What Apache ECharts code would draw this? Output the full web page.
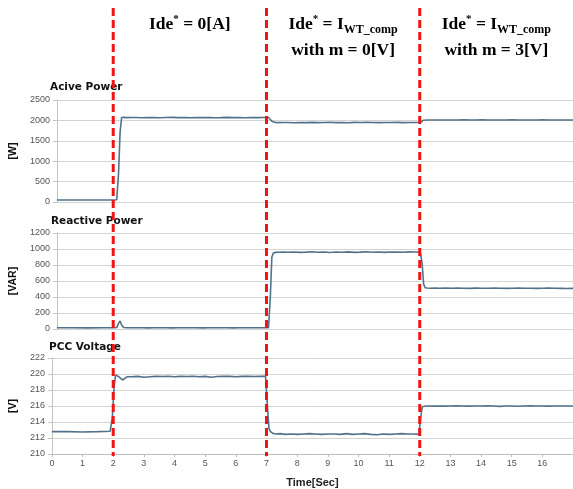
<!DOCTYPE html>
<html>
<head>
<meta charset="utf-8">
<script src="https://cdn.jsdelivr.net/npm/echarts@6/dist/echarts.min.js"></script>
<style>html,body{margin:0;padding:0;background:#fff}#c{width:573px;height:489px}</style>
</head>
<body>
<div id="c"></div>
<script>
// ---- data ----
const time = [0,0.5,1,1.5,1.9,1.97,2.03,2.08,2.13,2.2,2.3,2.45,
2.6,2.8,3,3.2,3.4,3.6,3.8,4,4.2,4.4,4.6,4.8,5,5.2,5.4,5.6,5.8,6,6.2,6.4,6.6,6.8,
6.97,7.03,7.08,7.13,7.2,7.3,7.45,
7.6,7.8,8,8.2,8.4,8.6,8.8,9,9.2,9.4,9.6,9.8,10,10.2,10.4,10.6,10.8,11,11.2,11.4,11.6,11.8,
11.97,12.03,12.08,12.13,12.2,12.3,12.45,
12.6,12.8,13,13.2,13.4,13.6,13.8,14,14.2,14.4,14.6,14.8,15,15.2,15.4,15.6,15.8,16,16.2,16.4,16.6,16.8,
17];

const activePower = [50,50,50,50,50,55,700,1700,2070,2075,2068,2070,
2070,2066,2072,2068,2064,2070,2073,2067,2070,2065,2071,2068,2072,2066,2069,2073,2067,2070,2066,2072,2069,2071,
2070,2030,1980,1955,1948,1946,1950,
1948,1944,1950,1946,1952,1945,1949,1953,1946,1950,1944,1951,1947,1953,1948,1945,1950,1947,1952,1946,1949,1947,
1948,1985,2005,2010,2010,2008,2010,
2010,2009,2011,2010,2012,2010,2009,2015,2010,2011,2009,2010,2012,2010,2009,2011,2010,2013,2010,2009,2011,2010,
2010];

const reactivePower = [15,15,14,15,15,18,70,100,50,18,15,15,
15,16,14,15,16,15,14,15,16,15,15,14,16,15,15,16,14,15,15,16,15,15,
15,400,900,950,958,960,962,
960,963,958,961,965,959,962,957,963,960,964,958,961,966,960,962,958,963,961,959,964,962,
960,820,560,515,512,510,511,
510,512,509,511,510,508,511,510,509,512,510,508,510,511,509,510,508,510,511,509,508,507,
508];

const pccVoltage = [212.8,212.8,212.75,212.8,212.85,214.5,218.5,219.9,220.1,219.6,219.25,219.65,
219.65,219.7,219.6,219.65,219.7,219.68,219.72,219.66,219.7,219.68,219.72,219.65,219.7,219.6,219.68,219.72,219.7,219.66,219.7,219.72,219.68,219.7,
219.7,216.0,213.2,212.8,212.6,212.5,212.55,
212.45,212.5,212.45,212.5,212.55,212.5,212.45,212.5,212.5,212.45,212.55,212.45,212.5,212.55,212.45,212.4,212.5,212.45,212.5,212.55,212.5,212.5,
212.45,214.5,215.9,216.0,216.0,216.0,215.98,
216.0,215.98,216.0,216.02,216.0,215.98,216.0,216.0,216.02,216.0,215.95,216.0,216.0,215.97,216.0,216.02,216.0,216.0,215.98,216.0,216.0,216.0,
216.0];

const panelTitles = ['Acive Power', 'Reactive Power', 'PCC Voltage'];
const yNames = ['[W]', '[VAR]', '[V]'];
const yRanges = [[0, 2500, 500], [0, 1200, 200], [210, 222, 2]];
const switchTimes = [2, 7, 12];
const segments = [[2, 7], [7, 12], [12, 17]];
const xAxisName = 'Time[Sec]';

// ---- chart ----
const chart = echarts.init(document.getElementById('c'), null, {renderer: 'canvas'});
const lineColor = '#52718b';
const gridDefs = [
  {left: 51, right: -2, top: 100, height: 102},
  {left: 51, right: -2, top: 233, height: 96},
  {left: 51, right: -2, top: 358, height: 104}
];
const series = [activePower, reactivePower, pccVoltage].map((arr, i) => ({
  type: 'line', xAxisIndex: i, yAxisIndex: i, showSymbol: false, animation: false,
  lineStyle: {color: lineColor, width: 1.6},
  data: time.map((t, k) => [t, arr[k]])
}));

chart.setOption({
  animation: false,
  title: panelTitles.map((t, i) => ({
    text: t, left: [50, 51, 49][i], top: [82, 216, 342][i], padding: 0,
    textStyle: {fontFamily: 'DejaVu Sans', fontWeight: 'bold', fontSize: 10.5, color: '#111'}
  })),
  grid: gridDefs,
  xAxis: [0, 1, 2].map(i => ({
    type: 'value', gridIndex: i, min: 0, max: 17, interval: 1,
    name: i === 2 ? xAxisName : '', nameLocation: 'middle', nameGap: 23,
    nameTextStyle: {fontFamily: 'Liberation Sans', fontWeight: 'bold', fontSize: 11, color: '#222'},
    axisLine: {show: i === 2, lineStyle: {color: '#bdbdbd'}},
    axisTick: {show: i === 2, length: 3, lineStyle: {color: '#bdbdbd'}},
    axisLabel: {show: i === 2, showMaxLabel: false, margin: 5, fontSize: 9, color: '#555', fontFamily: 'Liberation Sans'},
    splitLine: {show: false}
  })),
  yAxis: [0, 1, 2].map(i => ({
    type: 'value', gridIndex: i, min: yRanges[i][0], max: yRanges[i][1], interval: yRanges[i][2],
    name: yNames[i], nameLocation: 'middle', nameRotate: 90, nameGap: [25, 31, 29][i],
    nameTextStyle: {fontFamily: 'Liberation Sans', fontWeight: 'bold', fontSize: 10.5, color: '#111'},
    axisLine: {show: true, lineStyle: {color: '#c4c4c4'}},
    axisTick: {show: true, length: 4, lineStyle: {color: '#c4c4c4'}},
    axisLabel: {margin: 7, fontSize: 9, color: '#555', fontFamily: 'Liberation Sans', formatter: v => String(v)},
    splitLine: {show: true, lineStyle: {color: '#d4d4d4', width: 1}}
  })),
  series: series
});

// red dashed switching lines and annotations, positioned through the axis scale
const xPix = switchTimes.map(t => chart.convertToPixel({xAxisIndex: 2}, t));
const midPix = segments.map(s => chart.convertToPixel({xAxisIndex: 2}, (s[0] + s[1]) / 2));
const serif = 'Liberation Serif';
const rich = {
  b: {fontFamily: serif, fontWeight: 'bold', fontSize: 17.5, lineHeight: 26, color: '#000'},
  sup: {fontFamily: serif, fontWeight: 'bold', fontSize: 11, padding: [0, 0, 10, 0], color: '#000'},
  sub: {fontFamily: serif, fontWeight: 'bold', fontSize: 12, padding: [11, 0, 0, 0], color: '#000'}
};
const annTexts = [
  '{b|Ide}{sup|*}{b| = 0[A]}',
  '{b|Ide}{sup|*}{b| = I}{sub|WT_comp}\n{b|with m = 0[V]}',
  '{b|Ide}{sup|*}{b| = I}{sub|WT_comp}\n{b|with m = 3[V]}'
];
const bottomY = chart.convertToPixel({yAxisIndex: 2}, 210);
chart.setOption({
  graphic: [
    ...xPix.map(x => ({
      type: 'line', silent: true, z: 10,
      shape: {x1: x, y1: 8, x2: x, y2: bottomY + 2},
      style: {stroke: '#f01414', lineWidth: 3, lineDash: [8, 4]}
    })),
    ...midPix.map((x, i) => ({
      type: 'text', x: x, y: 11, z: 10,
      style: {text: annTexts[i], rich: rich, align: 'center', verticalAlign: 'top'}
    }))
  ]
});
</script>
</body>
</html>
